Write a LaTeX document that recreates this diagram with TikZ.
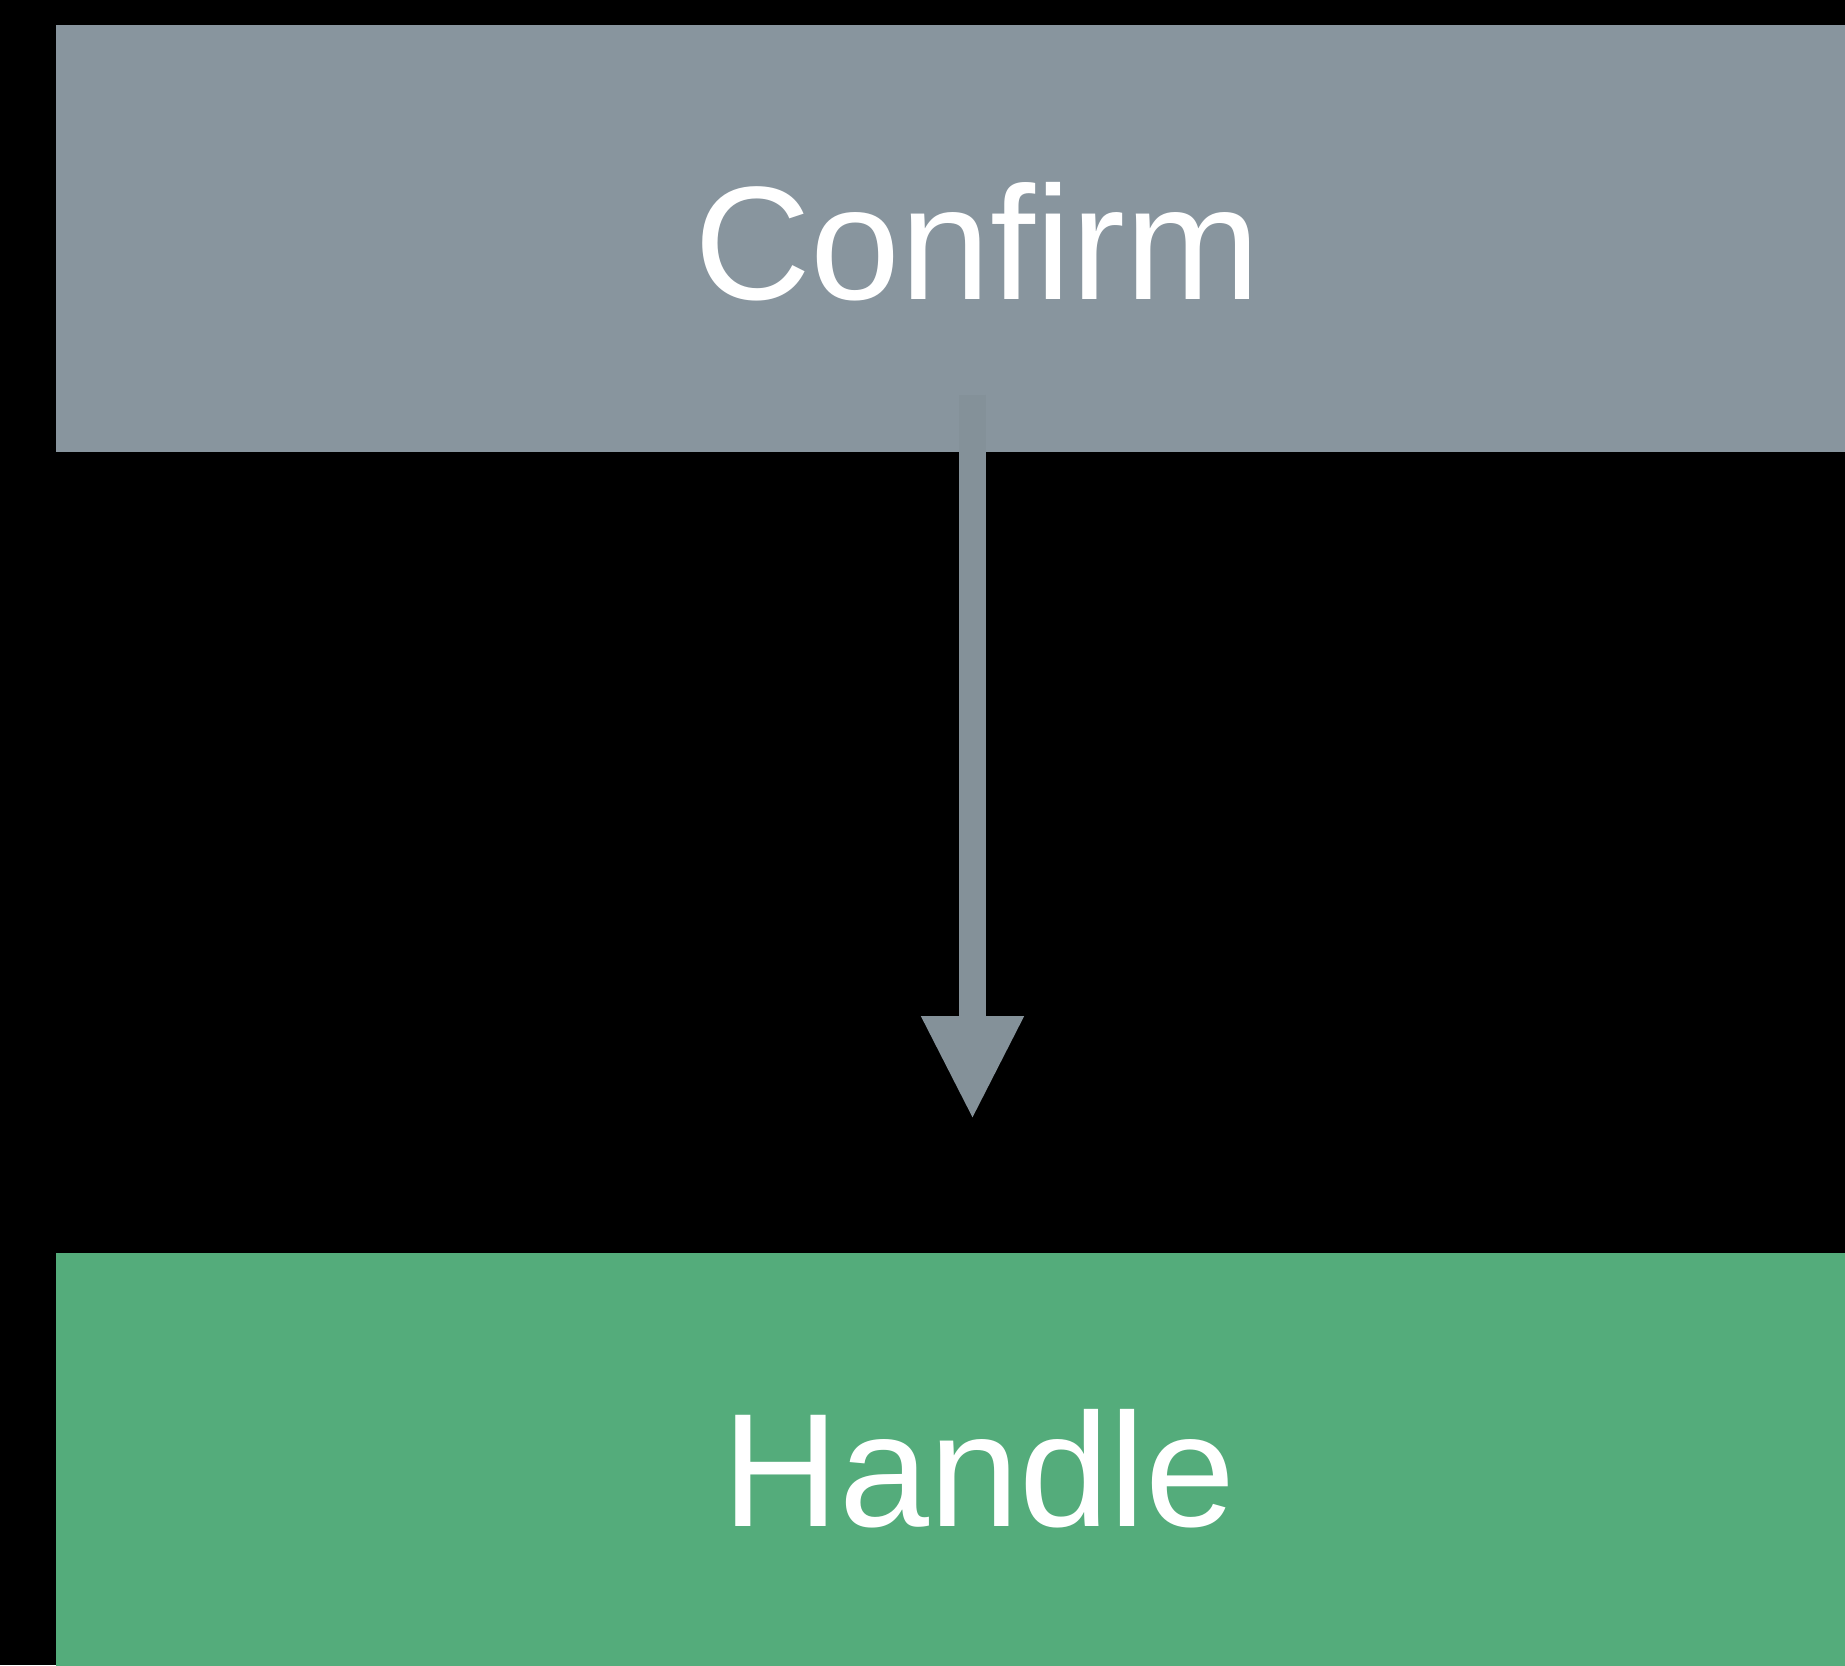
\documentclass[tikz,border=0pt]{standalone}
\usepackage{tikz}
\usetikzlibrary{arrows.meta,positioning}
\usepackage{xcolor}
\usepackage{fontspec}
\setmainfont{Liberation Sans}
\definecolor{FlowGray}{RGB}{136,149,158}
\definecolor{FlowGreen}{RGB}{84,172,123}

\begin{document}
\begin{tikzpicture}[
  stagebox/.style={draw=none,anchor=south west,inner sep=0pt,minimum width=17.95cm},
  stagetxt/.style={text=white,font=\fontsize{46}{55}\selectfont,anchor=base,inner sep=0pt},
]
\fill[black] (0,0) rectangle (18.45,16.65);
\useasboundingbox (0,0) rectangle (18.45,16.65);
\node[stagebox,fill=FlowGray,minimum height=4.27cm] (confirm) at (0.55,12.12) {};
\node[stagebox,fill=FlowGreen,minimum height=4.16cm] (handle) at (0.55,-0.05) {};
\node[stagetxt] (confirmtxt) at (9.77,13.65) {Confirm};
\node[stagetxt] (handletxt) at (9.79,1.39) {Handle};
\coordinate (from) at (9.725,12.70);
\coordinate (to) at (9.725,5.45);
\draw[-{Triangle[length=10.4mm,width=9.5mm]},FlowGray!97!black,line width=0.27cm] (from) -- (to);
\end{tikzpicture}
\end{document}
